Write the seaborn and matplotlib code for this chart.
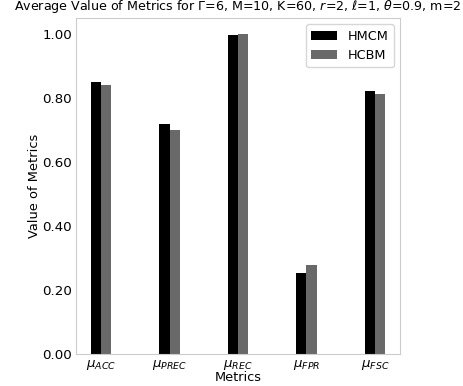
import numpy as np
import pandas as pd
import matplotlib
matplotlib.use("Agg")
import matplotlib.pyplot as plt
import seaborn as sns

# data
metrics = [r'$\mu_{ACC}$', r'$\mu_{PREC}$', r'$\mu_{REC}$', r'$\mu_{FPR}$', r'$\mu_{FSC}$']
hmcm = [0.850, 0.718, 0.997, 0.254, 0.821]
hcbm = [0.840, 0.700, 1.000, 0.279, 0.812]
methods = ['HMCM', 'HCBM']

df = pd.DataFrame({
    'Metrics': metrics * 2,
    'Value': hmcm + hcbm,
    'Method': [methods[0]] * len(metrics) + [methods[1]] * len(metrics),
})

sns.set_style('whitegrid')
plt.rcParams['text.color'] = 'black'
plt.rcParams['axes.labelcolor'] = 'black'
plt.rcParams['xtick.color'] = 'black'
plt.rcParams['ytick.color'] = 'black'

fig = plt.figure(figsize=(4.63, 3.86), dpi=100)
ax = fig.add_axes([76 / 463, 1 - 354 / 386, 324 / 463, 336 / 386])

sns.barplot(data=df, x='Metrics', y='Value', hue='Method', width=0.3,
            palette=['#000000', '#696969'], saturation=1, ax=ax, linewidth=0)

ax.grid(False)
ax.set_xlim(-0.365, 4.365)
ax.set_ylim(0, 1.05)
ax.set_yticks([0, 0.2, 0.4, 0.6, 0.8, 1.0])
ax.yaxis.set_major_formatter(matplotlib.ticker.FormatStrFormatter('%.2f'))
ax.tick_params(axis='both', labelsize=9.6, length=0, pad=3)
ax.set_xlabel('Metrics', fontsize=9.3, labelpad=-1)
ax.set_ylabel('Value of Metrics', fontsize=9.4, labelpad=1)
ax.set_title(r'Average Value of Metrics for Γ=6, M=10, K=60, $r$=2, $\ell$=1, $\theta$=0.9, m=2',
             fontsize=9.1, pad=6)
ax.legend(title=None, fontsize=9.3, loc='upper right')

fig.savefig('out.png', dpi=100)
